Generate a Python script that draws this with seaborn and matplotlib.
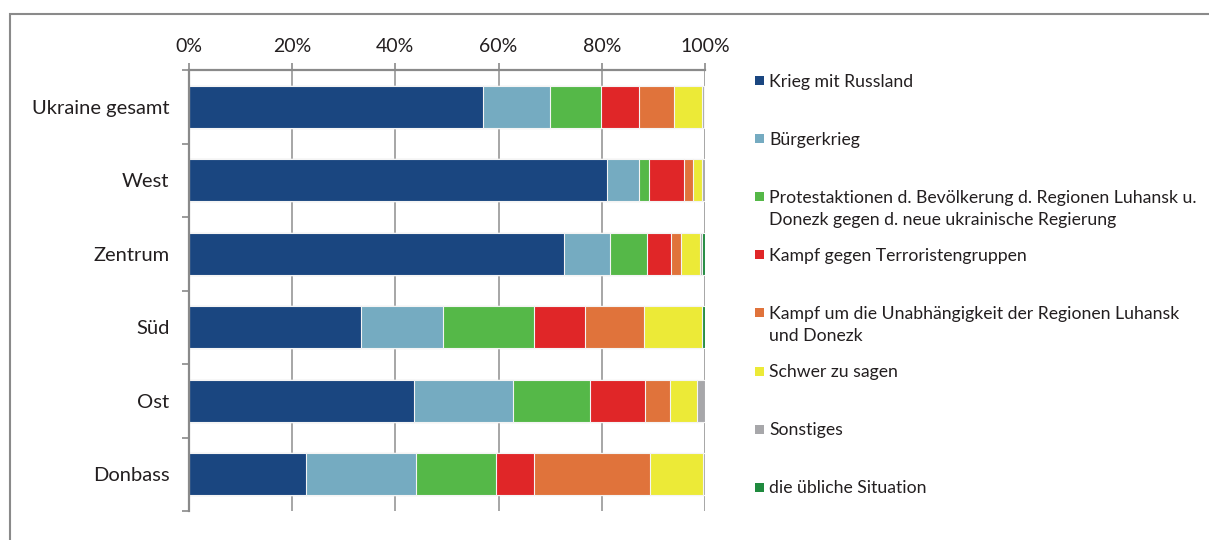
import matplotlib.pyplot as plt
from matplotlib.patches import Rectangle
import numpy as np
import pandas as pd
import seaborn as sns

sns.set_style("white")
plt.rcParams['font.family'] = ['Lato', 'DejaVu Sans']

regions = ["Ukraine gesamt", "West", "Zentrum", "Süd", "Ost", "Donbass"]
answers = [
    "Krieg mit Russland",
    "Bürgerkrieg",
    "Protestaktionen d. Bevölkerung d. Regionen Luhansk u.\nDonezk gegen d. neue ukrainische Regierung",
    "Kampf gegen Terroristengruppen",
    "Kampf um die Unabhängigkeit der Regionen Luhansk\nund Donezk",
    "Schwer zu sagen",
    "Sonstiges",
    "die übliche Situation",
]
# shares in % per region, one list per answer
krieg = [57.0, 81.0, 72.7, 33.3, 43.7, 22.7]
buerger = [13.0, 6.2, 8.9, 16.0, 19.1, 21.3]
protest = [9.9, 1.9, 7.1, 17.6, 14.9, 15.4]
terror = [7.3, 6.9, 4.8, 9.8, 10.7, 7.5]
unabh = [6.7, 1.7, 1.8, 11.5, 4.8, 22.5]
schwer = [5.5, 1.7, 3.7, 11.3, 5.3, 10.3]
sonst = [0.5, 0.6, 0.5, 0.0, 1.5, 0.3]
ueblich = [0.1, 0.0, 0.5, 0.5, 0.0, 0.0]

colors = ["#1a4680", "#75abc1", "#55b848", "#e02628",
          "#e0733b", "#ecea37", "#a7a7aa", "#1f8a3e"]

df = pd.DataFrame(
    np.array([krieg, buerger, protest, terror, unabh, schwer, sonst, ueblich]).T,
    index=regions, columns=answers)
cum = df.cumsum(axis=1)

fig = plt.figure(figsize=(12.09, 5.40), dpi=100)
W, H = 1209, 540
ax = fig.add_axes([189 / W, 1 - 511 / H, (705 - 189) / W, (511 - 70) / H])

# stacked bars: draw cumulative totals from the outermost segment inwards
for i in reversed(range(len(answers))):
    sns.barplot(x=cum.iloc[:, i].values, y=regions, color=colors[i],
                orient="h", width=0.57, edgecolor="#f4f4f4", linewidth=0.8,
                saturation=1, ax=ax)

ax.set_xlim(0, 100)
ax.set_ylim(5.5, -0.5)
ax.set_xticks(range(0, 101, 20))
ax.set_xticklabels([f"{v}%" for v in range(0, 101, 20)])
ax.xaxis.tick_top()
ax.set_xlabel("")
ax.set_ylabel("")
ax.set_axisbelow(True)
ax.grid(axis="x", color="#8e8e8e", linewidth=1.1)
ax.grid(axis="y", visible=False)

for side in ["right", "bottom"]:
    ax.spines[side].set_visible(False)
for side in ["top", "left"]:
    ax.spines[side].set_color("#8a8a8a")
    ax.spines[side].set_linewidth(1.6)

ax.tick_params(axis="x", top=True, direction="out", length=5, width=1.2,
               color="#8a8a8a", pad=5.5, labelsize=14, labelcolor="#231f20")
ax.tick_params(axis="y", which="major", left=False, length=0, pad=14,
               labelsize=14.5, labelcolor="#231f20")
ax.set_yticks(np.arange(-0.5, 6, 1), minor=True)
ax.tick_params(axis="y", which="minor", left=True, direction="out",
               length=5, width=1.2, color="#8a8a8a")

# legend drawn as column of entries on the right
for k, (lab, col) in enumerate(zip(answers, colors)):
    yc = 80.5 + 58.1 * k
    fig.patches.append(Rectangle((755 / W, 1 - (yc + 4.5) / H), 9 / W, 9 / H,
                                 transform=fig.transFigure, facecolor=col,
                                 edgecolor="none"))
    for j, line in enumerate(lab.split("\n")):
        fig.text(769 / W, 1 - (yc + 6 + 22 * j) / H, line, fontsize=12.7,
                 color="#231f20", va="baseline", ha="left")

# outer frame
fig.patches.append(Rectangle((10 / W, -0.2), 1.5, 1 - 14 / H + 0.2,
                             transform=fig.transFigure, facecolor="none",
                             edgecolor="#8a8a8a", linewidth=1.5))

fig.savefig("out.png", dpi=100)
